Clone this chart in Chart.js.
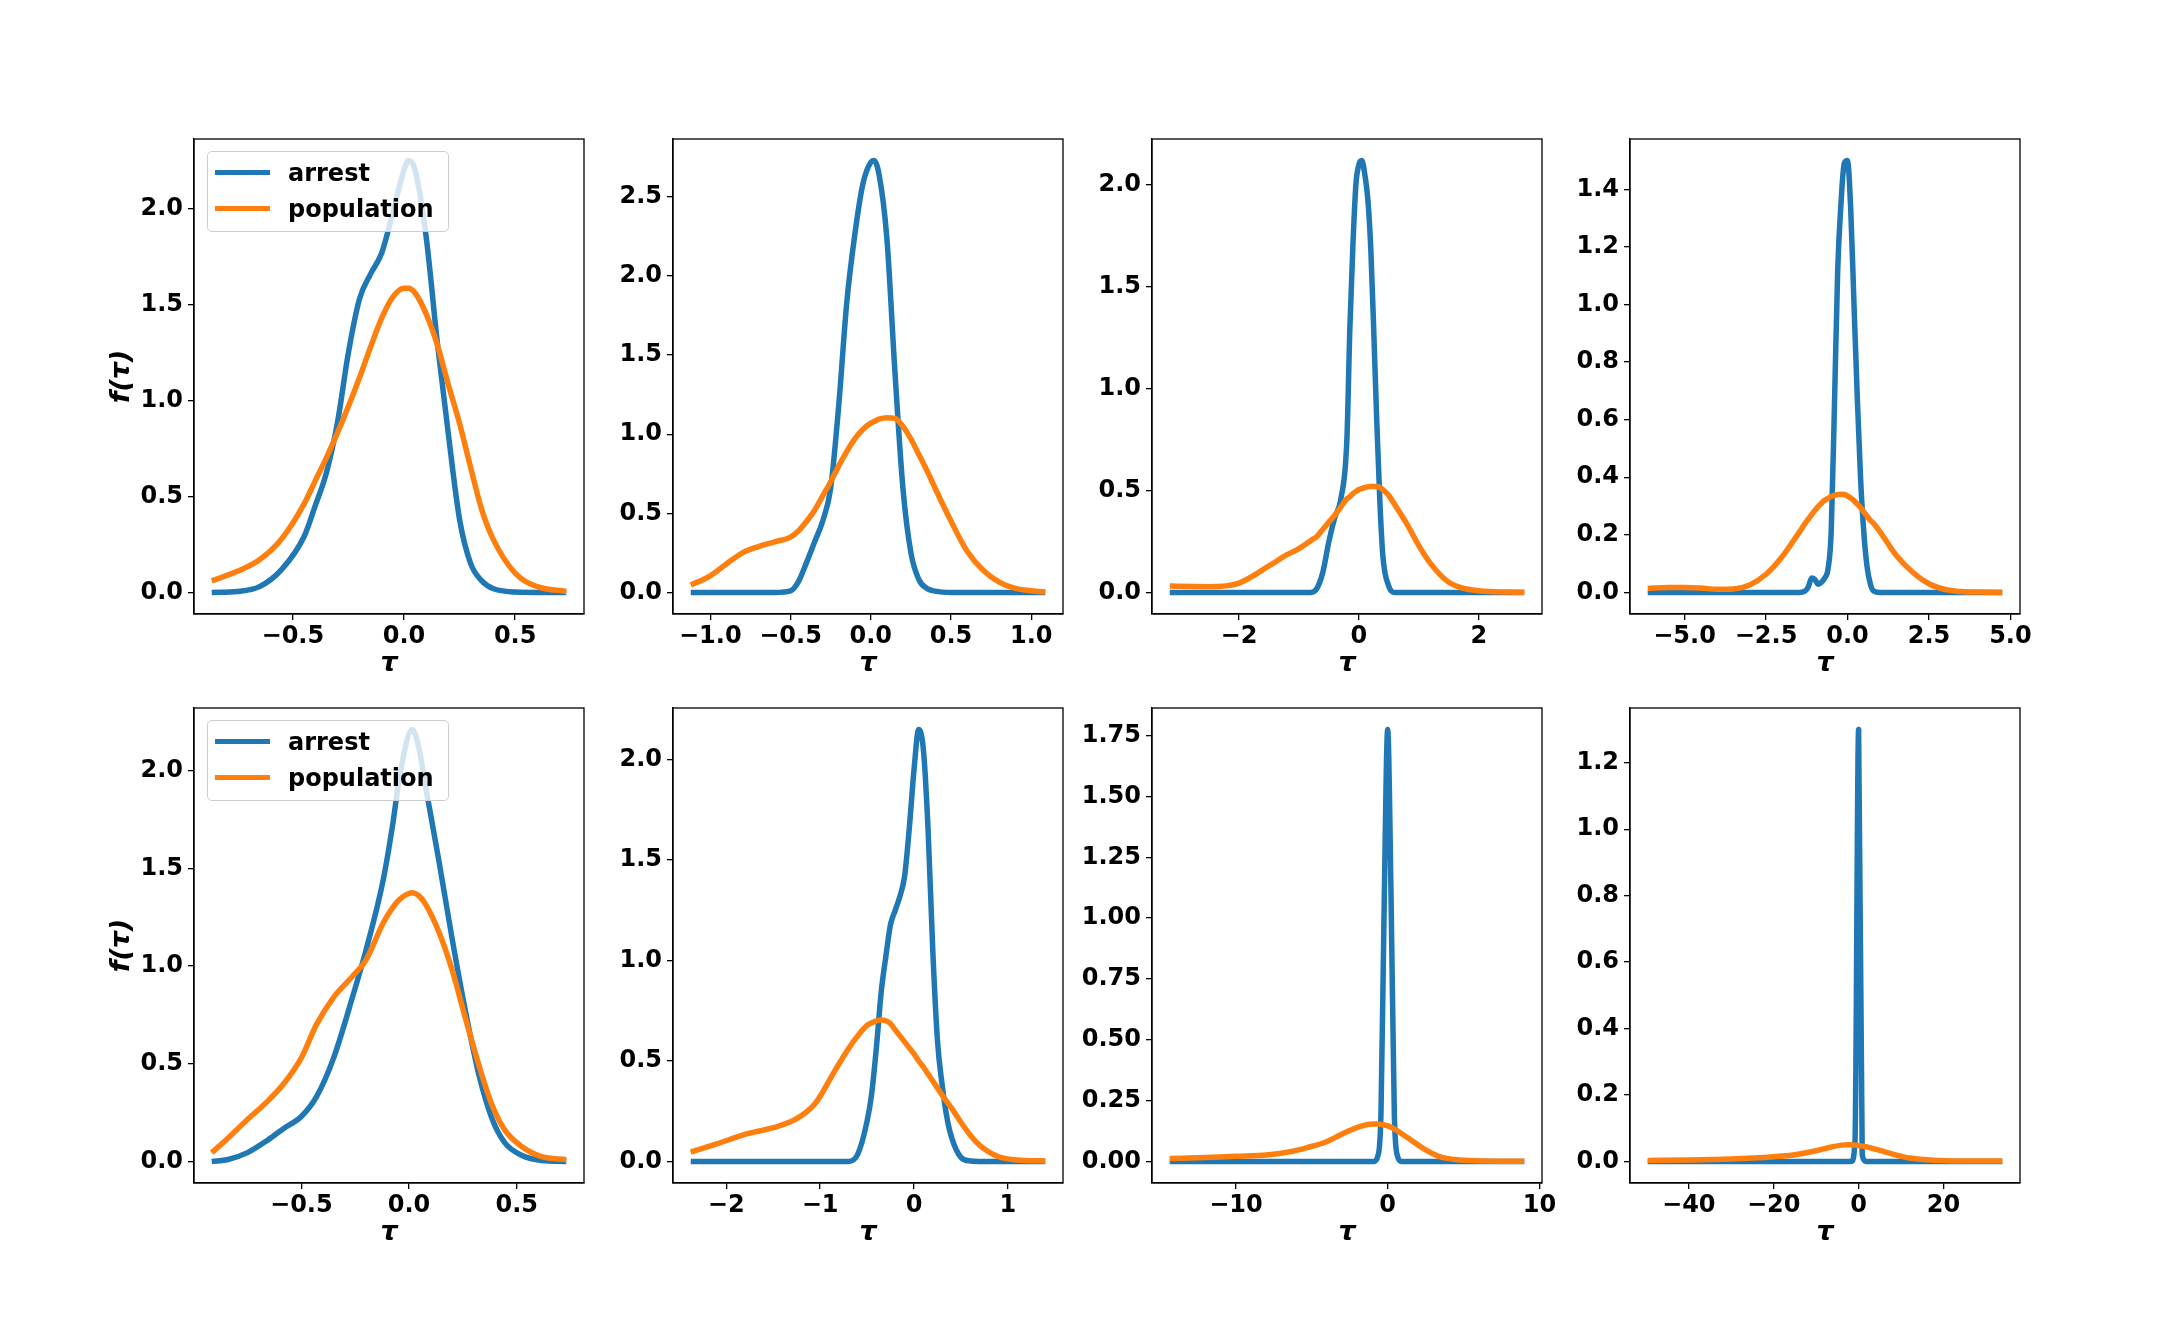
<!DOCTYPE html>
<html>
<head>
<meta charset="utf-8">
<title>f(τ) arrest vs population</title>
<script src="https://cdn.jsdelivr.net/npm/chart.js@4.4.0/dist/chart.umd.min.js"></script>
<style>
  html, body { margin: 0; padding: 0; background: #fff; }
  #fig { position: relative; width: 2160px; height: 1322px; overflow: hidden; background: #fff; }
  #fig canvas { position: absolute; }
  .legend { position: absolute; box-sizing: border-box; border: 1.3px solid #cccccc; border-radius: 5px;
            background: rgba(255, 255, 255, 0.8); font: bold 24px "DejaVu Sans"; color: #000; }
  .legend .swatch { position: absolute; left: 7px; width: 55px; height: 5.5px; margin-top: -2.75px; }
  .legend .label { position: absolute; left: 80px; line-height: 1; transform: translateY(-50%); white-space: nowrap; }
</style>
</head>
<body>
<div id="fig"></div>
<script>
// values, one set per panel (row by row)
const tau1 = [-0.865, -0.75, -0.65, -0.55, -0.45, -0.4, -0.35, -0.3, -0.25, -0.2, -0.15, -0.1, -0.05, 0, 0.02, 0.05, 0.1, 0.15, 0.2, 0.25, 0.3, 0.35, 0.4, 0.5, 0.6, 0.73];
const arrest1 = [0, 0.005, 0.03, 0.12, 0.29, 0.45, 0.62, 0.88, 1.25, 1.53, 1.66, 1.77, 1.98, 2.2, 2.25, 2.2, 1.85, 1.3, 0.82, 0.38, 0.15, 0.06, 0.02, 0.002, 0, 0];
const population1 = [0.06, 0.11, 0.17, 0.28, 0.46, 0.58, 0.7, 0.83, 0.97, 1.12, 1.28, 1.43, 1.54, 1.585, 1.585, 1.56, 1.45, 1.29, 1.08, 0.88, 0.65, 0.43, 0.28, 0.1, 0.03, 0.005];

const tau2 = [-1.122, -1.0, -0.9, -0.8, -0.7, -0.6, -0.5, -0.45, -0.4, -0.35, -0.3, -0.25, -0.2, -0.15, -0.1, -0.05, 0, 0.02, 0.05, 0.1, 0.15, 0.2, 0.25, 0.3, 0.35, 0.4, 0.5, 0.6, 0.7, 0.8, 0.9, 1.087];
const arrest2 = [0, 0, 0, 0, 0, 0, 0.01, 0.07, 0.19, 0.32, 0.45, 0.66, 1.18, 1.83, 2.26, 2.58, 2.72, 2.73, 2.65, 2.24, 1.4, 0.66, 0.25, 0.08, 0.025, 0.008, 0, 0, 0, 0, 0, 0];
const population2 = [0.047, 0.105, 0.18, 0.25, 0.29, 0.32, 0.35, 0.39, 0.45, 0.52, 0.61, 0.7, 0.8, 0.89, 0.97, 1.03, 1.07, 1.08, 1.095, 1.105, 1.1, 1.05, 0.97, 0.87, 0.77, 0.66, 0.45, 0.26, 0.14, 0.065, 0.025, 0.002];

const tau3 = [-3.156, -3, -2.5, -2, -1.5, -1.2, -1, -0.8, -0.7, -0.6, -0.5, -0.4, -0.3, -0.2, -0.15, -0.1, -0.05, 0, 0.05, 0.1, 0.15, 0.2, 0.25, 0.3, 0.35, 0.4, 0.5, 0.6, 0.8, 1, 1.2, 1.5, 2, 2.5, 2.76];
const arrest3 = [0, 0, 0, 0, 0, 0, 0, 0, 0.02, 0.1, 0.25, 0.37, 0.46, 0.75, 1.3, 1.7, 2.0, 2.1, 2.12, 2.05, 1.93, 1.68, 1.27, 0.83, 0.45, 0.18, 0.03, 0, 0, 0, 0, 0, 0, 0, 0];
const population3 = [0.032, 0.03, 0.028, 0.046, 0.13, 0.185, 0.215, 0.255, 0.275, 0.31, 0.345, 0.38, 0.42, 0.46, 0.47, 0.485, 0.495, 0.505, 0.51, 0.515, 0.518, 0.52, 0.52, 0.52, 0.515, 0.505, 0.476, 0.43, 0.336, 0.23, 0.14, 0.05, 0.008, 0.002, 0.001];

const tau4 = [-6.13, -5.5, -5, -4.5, -4, -3.5, -3, -2.5, -2, -1.5, -1.3, -1.2, -1.1, -1.0, -0.9, -0.8, -0.7, -0.6, -0.5, -0.4, -0.3, -0.2, -0.1, 0, 0.1, 0.2, 0.3, 0.4, 0.5, 0.6, 0.7, 0.8, 1.0, 1.5, 2, 2.5, 3, 3.5, 4, 4.75];
const arrest4 = [0, 0, 0, 0, 0, 0, 0, 0, 0, 0, 0.005, 0.02, 0.05, 0.045, 0.028, 0.035, 0.05, 0.08, 0.21, 0.65, 1.12, 1.35, 1.49, 1.5, 1.33, 1.0, 0.68, 0.4, 0.21, 0.09, 0.03, 0.005, 0, 0, 0, 0, 0, 0, 0, 0];
const population4 = [0.014, 0.017, 0.017, 0.015, 0.011, 0.012, 0.026, 0.063, 0.125, 0.206, 0.24, 0.255, 0.27, 0.285, 0.298, 0.31, 0.32, 0.327, 0.333, 0.337, 0.34, 0.341, 0.34, 0.335, 0.328, 0.318, 0.307, 0.295, 0.28, 0.265, 0.25, 0.24, 0.21, 0.128, 0.07, 0.03, 0.01, 0.003, 0.001, 0];

const tau5 = [-0.916, -0.84, -0.75, -0.655, -0.58, -0.5, -0.43, -0.35, -0.26, -0.2, -0.12, -0.075, -0.045, 0.015, 0.045, 0.08, 0.14, 0.2, 0.26, 0.325, 0.385, 0.445, 0.525, 0.615, 0.73];
const arrest5 = [0, 0.01, 0.045, 0.11, 0.17, 0.23, 0.33, 0.53, 0.85, 1.08, 1.44, 1.73, 1.96, 2.21, 2.12, 1.9, 1.53, 1.14, 0.78, 0.44, 0.22, 0.095, 0.03, 0.005, 0];
const population5 = [0.044, 0.12, 0.215, 0.31, 0.4, 0.53, 0.7, 0.84, 0.95, 1.03, 1.22, 1.3, 1.34, 1.375, 1.36, 1.31, 1.17, 0.98, 0.74, 0.49, 0.29, 0.16, 0.075, 0.024, 0.009];

const tau6 = [-2.378, -2.1, -1.8, -1.5, -1.25, -1.05, -0.85, -0.7, -0.6, -0.5, -0.45, -0.4, -0.35, -0.3, -0.25, -0.2, -0.15, -0.1, -0.05, 0, 0.05, 0.1, 0.15, 0.2, 0.25, 0.3, 0.35, 0.4, 0.5, 0.6, 0.7, 0.9, 1.1, 1.398];
const arrest6 = [0, 0, 0, 0, 0, 0, 0, 0, 0.035, 0.2, 0.34, 0.57, 0.84, 1.02, 1.18, 1.25, 1.32, 1.42, 1.66, 1.95, 2.15, 2.05, 1.65, 1.05, 0.6, 0.38, 0.22, 0.12, 0.02, 0.002, 0, 0, 0, 0];
const population6 = [0.046, 0.087, 0.135, 0.168, 0.213, 0.29, 0.446, 0.56, 0.625, 0.677, 0.69, 0.7, 0.704, 0.7, 0.685, 0.655, 0.625, 0.595, 0.565, 0.535, 0.5, 0.47, 0.435, 0.4, 0.365, 0.33, 0.297, 0.265, 0.195, 0.13, 0.08, 0.023, 0.007, 0.002];

const tau7 = [-14.36, -12, -10, -8, -6.5, -5.3, -4, -3, -2.2, -1.5, -0.9, -0.66, -0.44, -0.22, 0, 0.22, 0.44, 0.66, 0.9, 1.3, 2, 2.5, 3.4, 4.8, 6.3, 9.0];
const arrest7 = [0, 0, 0, 0, 0, 0, 0, 0, 0, 0, 0, 0.02, 0.2, 1.1, 1.775, 1.1, 0.19, 0.02, 0, 0, 0, 0, 0, 0, 0, 0];
const population7 = [0.012, 0.016, 0.021, 0.026, 0.039, 0.057, 0.082, 0.113, 0.135, 0.149, 0.154, 0.154, 0.152, 0.15, 0.146, 0.14, 0.133, 0.125, 0.115, 0.098, 0.068, 0.047, 0.02, 0.006, 0.002, 0.001];

const tau8 = [-49.67, -40, -30, -20, -15, -10, -7, -4, -2.6, -1.7, -0.85, 0, 0.85, 1.7, 3, 5, 8, 12, 19, 25, 33.84];
const arrest8 = [0, 0, 0, 0, 0, 0, 0, 0, 0, 0, 0.06, 1.3, 0.02, 0, 0, 0, 0, 0, 0, 0, 0];
const population8 = [0.003, 0.004, 0.007, 0.014, 0.02, 0.032, 0.042, 0.049, 0.05, 0.05, 0.049, 0.048, 0.046, 0.044, 0.04, 0.033, 0.022, 0.01, 0.003, 0.001, 0.001];

// tick values per panel
const xTicks1 = [-0.5, 0, 0.5];
const xTicks2 = [-1, -0.5, 0, 0.5, 1];
const xTicks3 = [-2, 0, 2];
const xTicks4 = [-5, -2.5, 0, 2.5, 5];
const xTicks5 = [-0.5, 0, 0.5];
const xTicks6 = [-2, -1, 0, 1];
const xTicks7 = [-10, 0, 10];
const xTicks8 = [-40, -20, 0, 20];
const yTicks1 = [0, 0.5, 1, 1.5, 2];
const yTicks2 = [0, 0.5, 1, 1.5, 2, 2.5];
const yTicks3 = [0, 0.5, 1, 1.5, 2];
const yTicks4 = [0, 0.2, 0.4, 0.6, 0.8, 1, 1.2, 1.4];
const yTicks5 = [0, 0.5, 1, 1.5, 2];
const yTicks6 = [0, 0.5, 1, 1.5, 2];
const yTicks7 = [0, 0.25, 0.5, 0.75, 1, 1.25, 1.5, 1.75];
const yTicks8 = [0, 0.2, 0.4, 0.6, 0.8, 1, 1.2];

const seriesNames = ['arrest', 'population'];
const seriesColors = ['#1f77b4', '#ff7f0e'];

// layout of the axes boxes (px)
const COLS = [194, 673, 1152, 1630];
const ROWS = [139, 708];
const AX_W = 390, AX_H = 475;
const Y_W = 130, X_H = 80, PAD_T = 24, PAD_R = 40;

const panels = [
  { tau: tau1, a: arrest1, p: population1, xt: xTicks1, yt: yTicks1, xd: 1, yd: 1, col: 0, row: 0, legend: true },
  { tau: tau2, a: arrest2, p: population2, xt: xTicks2, yt: yTicks2, xd: 1, yd: 1, col: 1, row: 0 },
  { tau: tau3, a: arrest3, p: population3, xt: xTicks3, yt: yTicks3, xd: 0, yd: 1, col: 2, row: 0 },
  { tau: tau4, a: arrest4, p: population4, xt: xTicks4, yt: yTicks4, xd: 1, yd: 1, col: 3, row: 0 },
  { tau: tau5, a: arrest5, p: population5, xt: xTicks5, yt: yTicks5, xd: 1, yd: 1, col: 0, row: 1, legend: true },
  { tau: tau6, a: arrest6, p: population6, xt: xTicks6, yt: yTicks6, xd: 0, yd: 1, col: 1, row: 1 },
  { tau: tau7, a: arrest7, p: population7, xt: xTicks7, yt: yTicks7, xd: 0, yd: 2, col: 2, row: 1 },
  { tau: tau8, a: arrest8, p: population8, xt: xTicks8, yt: yTicks8, xd: 0, yd: 1, col: 3, row: 1 },
];

Chart.defaults.font.family = '"DejaVu Sans"';
Chart.defaults.color = '#000';

function fmt(v, d) {
  const s = Math.abs(v).toFixed(d);
  return (v < 0 ? '\u2212' : '') + s;
}

// matplotlib draws a full box round each axes
const framePlugin = {
  id: 'frame',
  afterDraw(chart) {
    const { ctx, chartArea: a } = chart;
    ctx.save();
    ctx.strokeStyle = '#000';
    ctx.lineWidth = 1.3;
    ctx.strokeRect(a.left, a.top, a.right - a.left, a.bottom - a.top);
    ctx.restore();
  }
};

const fig = document.getElementById('fig');

panels.forEach((pn) => {
  const axLeft = COLS[pn.col], axTop = ROWS[pn.row];
  const canvas = document.createElement('canvas');
  canvas.width = Y_W + AX_W + PAD_R;
  canvas.height = PAD_T + AX_H + X_H;
  canvas.style.left = (axLeft - Y_W) + 'px';
  canvas.style.top = (axTop - PAD_T) + 'px';
  fig.appendChild(canvas);

  // 5% margins like matplotlib autoscale
  const xLo = Math.min(...pn.tau), xHi = Math.max(...pn.tau);
  const yHi = Math.max(...pn.a, ...pn.p), yLo = 0;
  const xm = (xHi - xLo) * 0.05, ym = (yHi - yLo) * 0.05;

  const sets = [pn.a, pn.p].map((vals, k) => ({
    label: seriesNames[k],
    data: pn.tau.map((t, i) => ({ x: t, y: vals[i] })),
    borderColor: seriesColors[k],
    backgroundColor: seriesColors[k],
    borderWidth: 5.5,
    pointRadius: 0,
    fill: false,
    cubicInterpolationMode: 'monotone',
    borderJoinStyle: 'round',
    order: k === 0 ? 1 : 0,
  }));

  const chart = new Chart(canvas.getContext('2d'), {
    type: 'line',
    data: { datasets: sets },
    plugins: [framePlugin],
    options: {
      responsive: false,
      animation: false,
      devicePixelRatio: 1,
      layout: { padding: { top: PAD_T, right: PAD_R, left: 0, bottom: 0 } },
      plugins: { legend: { display: false }, tooltip: { enabled: false } },
      scales: {
        x: {
          type: 'linear',
          min: xLo - xm,
          max: xHi + xm,
          afterBuildTicks: (s) => { s.ticks = pn.xt.map((v) => ({ value: v })); },
          afterFit: (s) => { s.height = X_H; },
          ticks: {
            callback: (v) => fmt(v, pn.xd),
            font: { size: 24, weight: 'bold' },
            color: '#000',
            padding: 2,
            maxRotation: 0,
            autoSkip: false,
          },
          grid: { drawOnChartArea: false, drawTicks: true, tickLength: 6, color: '#000', lineWidth: 1.3 },
          border: { display: true, color: '#000', width: 1.3 },
          title: {
            display: true,
            text: 'τ',
            color: '#000',
            font: { size: 27, weight: 'bold', style: 'italic', lineHeight: 1 },
            padding: { top: 0, bottom: 17 },
          },
        },
        y: {
          type: 'linear',
          min: yLo - ym,
          max: yHi + ym,
          afterBuildTicks: (s) => { s.ticks = pn.yt.map((v) => ({ value: v })); },
          afterFit: (s) => { s.width = Y_W; },
          ticks: {
            callback: (v) => fmt(v, pn.yd),
            font: { size: 24, weight: 'bold' },
            color: '#000',
            padding: 5,
            autoSkip: false,
          },
          grid: { drawOnChartArea: false, drawTicks: true, tickLength: 6, color: '#000', lineWidth: 1.3 },
          border: { display: true, color: '#000', width: 1.3 },
          title: {
            display: pn.col === 0,
            text: 'f(τ)',
            color: '#000',
            font: { size: 27, weight: 'bold', style: 'italic', lineHeight: 1 },
            padding: { top: 44, bottom: 0 },
          },
        },
      },
    },
  });

  if (pn.legend) {
    const box = document.createElement('div');
    box.className = 'legend';
    box.style.left = (axLeft + 13) + 'px';
    box.style.top = (axTop + 12) + 'px';
    box.style.width = '242px';
    box.style.height = '81px';
    chart.data.datasets.forEach((ds, i) => {
      const yMid = 20.7 + i * 36;
      const sw = document.createElement('div');
      sw.className = 'swatch';
      sw.style.top = yMid + 'px';
      sw.style.background = ds.borderColor;
      const lb = document.createElement('div');
      lb.className = 'label';
      lb.style.top = yMid + 'px';
      lb.textContent = ds.label;
      box.appendChild(sw);
      box.appendChild(lb);
    });
    fig.appendChild(box);
  }
});
</script>
</body>
</html>
